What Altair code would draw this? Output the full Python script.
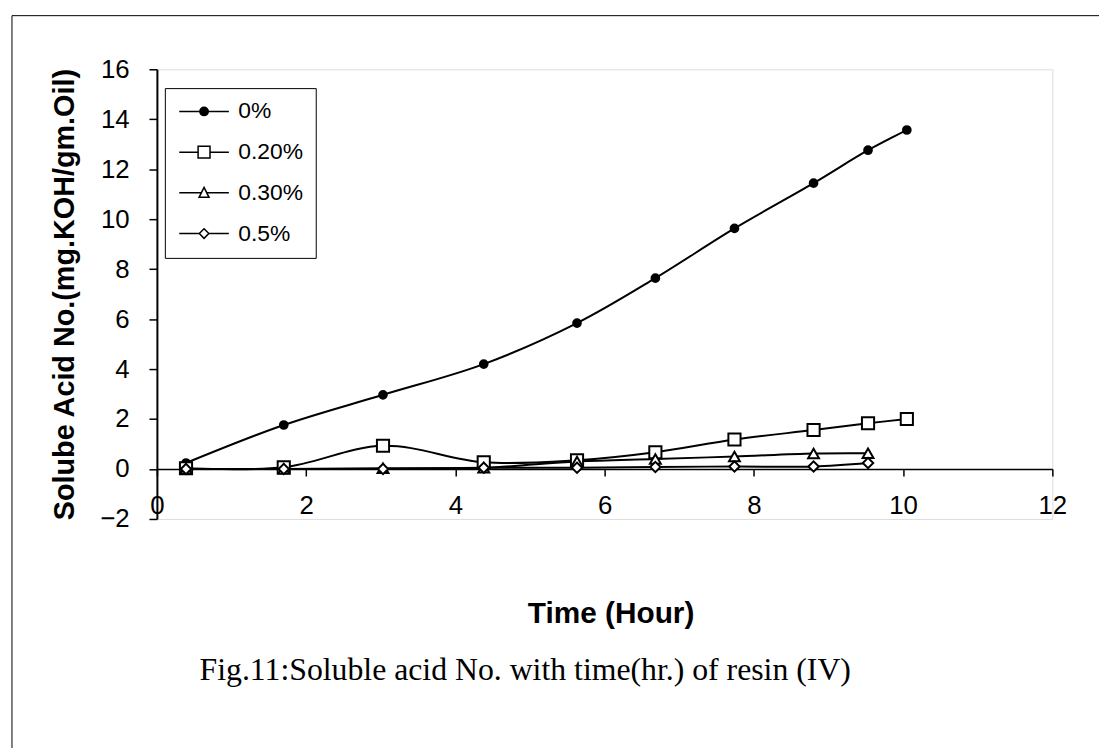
import altair as alt
import pandas as pd

# ---- data ----
time_h = [0.39, 1.70, 3.03, 4.38, 5.63, 6.68, 7.74, 8.80, 9.53, 10.05]
s_0 = [0.24, 1.76, 2.97, 4.20, 5.84, 7.64, 9.63, 11.44, 12.76, 13.57]
s_020 = [0.03, 0.07, 0.93, 0.27, 0.35, 0.67, 1.18, 1.56, 1.83, 2.00]
s_030 = [0.00, 0.00, 0.03, 0.05, 0.30, 0.40, 0.50, 0.62, 0.63]
s_05 = [0.00, 0.00, 0.00, 0.05, 0.05, 0.08, 0.10, 0.10, 0.24]
series_names = ["0%", "0.20%", "0.30%", "0.5%"]
x_ticks = [0, 2, 4, 6, 8, 10, 12]
y_ticks = [-2, 0, 2, 4, 6, 8, 10, 12, 14, 16]

rows = []
for name, vals in zip(series_names, [s_0, s_020, s_030, s_05]):
    for t, v in zip(time_h, vals):
        rows.append({"series": name, "time": t, "value": v})
df = pd.DataFrame(rows)

FONT = "Liberation Sans"
W, H = 902, 453

x_enc = alt.X("time:Q", scale=alt.Scale(domain=[0, 12], nice=False, zero=False),
              axis=alt.Axis(values=x_ticks, title="Time (Hour)", offset=-50.3,
                            grid=False, domainColor="black", domainWidth=1.5,
                            tickColor="black", tickWidth=1.5, tickSize=7,
                            labelFont=FONT, labelFontSize=26, labelColor="black",
                            labelPadding=17, labelFlush=False,
                            titleFont=FONT, titleFontSize=30, titleFontWeight="bold",
                            titleColor="black", titlePadding=81, titleX=457))
y_enc = alt.Y("value:Q", scale=alt.Scale(domain=[-2, 16], nice=False, zero=False),
              axis=alt.Axis(values=y_ticks, title="Solube Acid No.(mg.KOH/gm.Oil)",
                            grid=False, domainColor="black", domainWidth=2,
                            tickColor="black", tickWidth=1.5, tickSize=8,
                            labelFont=FONT, labelFontSize=26, labelColor="black",
                            labelPadding=20,
                            titleFont=FONT, titleFontSize=29, titleFontWeight="bold",
                            titleColor="black", titlePadding=20))

base = alt.Chart(df)

lines = base.mark_line(interpolate="catmull-rom", color="black", strokeWidth=2).encode(
    x=x_enc, y=y_enc, detail="series:N", order="time:Q")

marker_specs = [
    ("0%", "circle", 60, "black"),
    ("0.20%", "square", 150, "white"),
    ("0.30%", "triangle-up", 120, "white"),
    ("0.5%", "diamond", 110, "white"),
]
point_layers = []
for name, shp, sz, fillc in marker_specs:
    point_layers.append(
        base.transform_filter(alt.datum.series == name).mark_point(
            shape=shp, size=sz, filled=True, fill=fillc, stroke="black",
            strokeWidth=2, opacity=1).encode(x=x_enc, y=y_enc)
    )

legend_paths = [
    "M-2.5,0H2.5M-0.42,0A0.42,0.42 0 1,0 0.42,0A0.42,0.42 0 1,0 -0.42,0Z",
    "M-2.5,0H-0.6M0.6,0H2.5M-0.6,-0.6H0.6V0.6H-0.6Z",
    "M-2.5,0H-0.28M0.28,0H2.5M0,-0.55L0.5,0.45H-0.5Z",
    "M-2.5,0H-0.48M0.48,0H2.5M0,-0.48L0.48,0L0,0.48L-0.48,0Z",
]
leg = alt.Legend(title=None, orient="none", legendX=8, legendY=19,
                 strokeColor="black", fillColor="white", padding=12,
                 symbolSize=400, symbolStrokeWidth=1.5, symbolStrokeColor="black",
                 symbolOpacity=1, symbolOffset=16, labelOffset=23, rowPadding=17,
                 labelFont=FONT, labelFontSize=23, labelColor="black")
legend_layer = base.transform_filter("false").mark_point(
    filled=True, strokeWidth=1.5, size=400, opacity=1).encode(
    x=x_enc, y=y_enc,
    shape=alt.Shape("series:N", scale=alt.Scale(domain=series_names, range=legend_paths), legend=leg),
    fill=alt.Fill("series:N", scale=alt.Scale(domain=series_names, range=["black", "white", "white", "white"]), legend=leg),
    stroke=alt.Stroke("series:N", scale=alt.Scale(domain=series_names, range=["black", "black", "black", "black"]), legend=leg),
)

frame = alt.Chart(alt.Data(values=[{}])).mark_rect(
    fill="white", fillOpacity=0, stroke="black", strokeWidth=1).encode(
    x=alt.value(-146), x2=alt.value(1000), y=alt.value(-54), y2=alt.value(690))

chart = alt.layer(frame, lines, *point_layers, legend_layer).properties(
    width=W, height=H,
    padding={"left": 150, "top": 59, "right": 47, "bottom": 228},
    autosize=alt.AutoSizeParams(type="none"),
    title=alt.TitleParams(text="Fig.11:Soluble acid No. with time(hr.) of resin (IV)",
                          orient="bottom", anchor="middle", dx=-80, offset=-100,
                          font="Liberation Serif", fontSize=32, fontWeight="normal",
                          color="black"),
).configure_view(stroke="#808080", strokeWidth=2).configure(background="white")

chart.save("out.html", embed_options={"renderer": "svg", "actions": False})
